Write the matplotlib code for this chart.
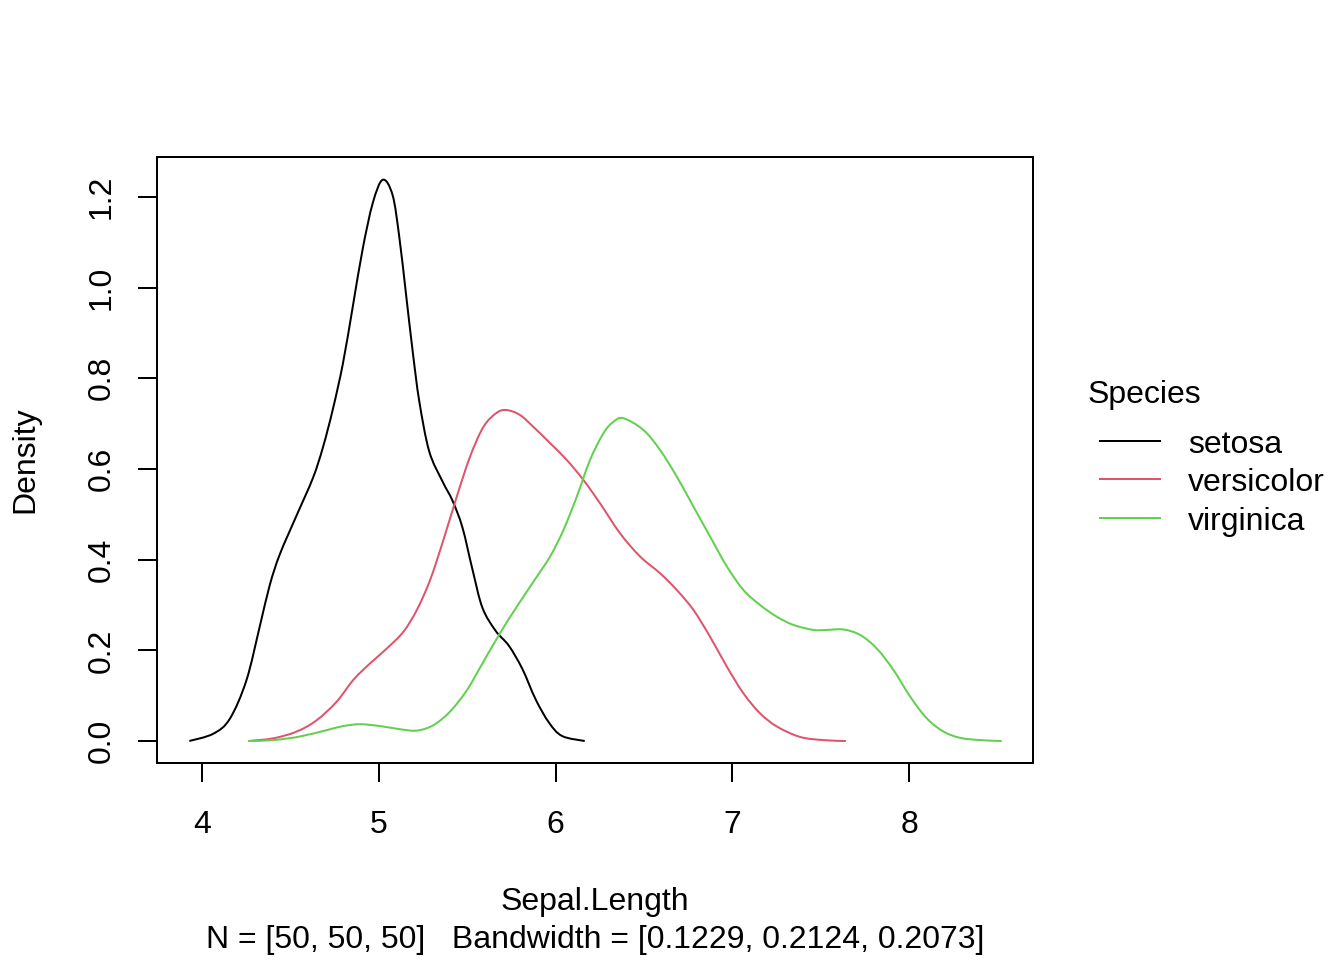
import matplotlib
matplotlib.use("Agg")
import numpy as np
import matplotlib.pyplot as plt
from matplotlib.lines import Line2D
from matplotlib.path import Path
from matplotlib.patches import PathPatch

plt.rcParams['font.family'] = ['Liberation Sans', 'DejaVu Sans']
plt.rcParams['font.size'] = 12

# --- density curves (x = Sepal.Length, y = density) ---
setosa_x = [3.928, 4.063, 4.157, 4.251, 4.326, 4.383, 4.440, 4.533, 4.627, 4.684,
            4.740, 4.797, 4.853, 4.909, 4.966, 5.022, 5.078, 5.116, 5.154, 5.192,
            5.229, 5.285, 5.361, 5.417, 5.473, 5.530, 5.586, 5.661, 5.736, 5.812,
            5.887, 5.962, 6.037, 6.165]
setosa_y = [0.000, 0.016, 0.049, 0.134, 0.252, 0.344, 0.412, 0.496, 0.580, 0.648,
            0.732, 0.833, 0.959, 1.086, 1.187, 1.238, 1.204, 1.111, 0.985, 0.858,
            0.749, 0.639, 0.572, 0.530, 0.471, 0.378, 0.294, 0.243, 0.210, 0.159,
            0.092, 0.041, 0.011, 0.000]

versicolor_x = [4.262, 4.404, 4.536, 4.649, 4.762, 4.856, 4.950, 5.045, 5.139, 5.215,
                5.290, 5.365, 5.441, 5.516, 5.592, 5.667, 5.724, 5.799, 5.874, 5.969,
                6.063, 6.157, 6.252, 6.365, 6.478, 6.591, 6.686, 6.780, 6.874, 6.969,
                7.063, 7.157, 7.252, 7.383, 7.515, 7.642]
versicolor_y = [0.000, 0.006, 0.021, 0.046, 0.087, 0.135, 0.171, 0.204, 0.241, 0.289,
                0.355, 0.443, 0.539, 0.627, 0.693, 0.724, 0.730, 0.719, 0.693, 0.657,
                0.620, 0.576, 0.524, 0.458, 0.407, 0.370, 0.333, 0.289, 0.230, 0.164,
                0.105, 0.061, 0.032, 0.009, 0.002, 0.000]

virginica_x = [4.262, 4.404, 4.554, 4.705, 4.799, 4.894, 5.007, 5.120, 5.215, 5.309,
               5.403, 5.498, 5.592, 5.686, 5.780, 5.874, 5.969, 6.044, 6.120, 6.195,
               6.271, 6.327, 6.384, 6.497, 6.591, 6.686, 6.780, 6.874, 6.969, 7.063,
               7.157, 7.252, 7.346, 7.459, 7.534, 7.628, 7.723, 7.817, 7.911, 8.006,
               8.100, 8.194, 8.289, 8.402, 8.524]
virginica_y = [0.000, 0.002, 0.010, 0.024, 0.033, 0.037, 0.033, 0.026, 0.023, 0.035,
               0.065, 0.112, 0.175, 0.238, 0.296, 0.351, 0.407, 0.465, 0.539, 0.620,
               0.679, 0.704, 0.712, 0.686, 0.642, 0.583, 0.517, 0.451, 0.385, 0.333,
               0.300, 0.274, 0.256, 0.245, 0.245, 0.246, 0.234, 0.204, 0.157, 0.098,
               0.050, 0.021, 0.007, 0.002, 0.000]

species = ['setosa', 'versicolor', 'virginica']
colors = ['#000000', '#DF536B', '#61D04F']
curves = [(setosa_x, setosa_y), (versicolor_x, versicolor_y), (virginica_x, virginica_y)]

x_ticks = [4, 5, 6, 7, 8]
y_ticks = [0.0, 0.2, 0.4, 0.6, 0.8, 1.0, 1.2]

W, H = 1344, 960
fx = lambda px: px / W
fy = lambda py: 1 - py / H


def smooth_path(xs, ys):
    # Catmull-Rom through the read points, drawn as cubic Bezier pieces
    p = np.column_stack([xs, ys])
    n = len(p)
    verts = [p[0]]
    codes = [Path.MOVETO]
    for i in range(n - 1):
        p0, p1, p2, p3 = p[max(i - 1, 0)], p[i], p[i + 1], p[min(i + 2, n - 1)]
        verts += [p1 + (p2 - p0) / 6, p2 - (p3 - p1) / 6, p2]
        codes += [Path.CURVE4] * 3
    return Path(verts, codes)


fig = plt.figure(figsize=(7, 5), dpi=192)
ax = fig.add_axes([fx(157), fy(763), fx(1033) - fx(157), fy(157) - fy(763)])

for (xs, ys), c in zip(curves, colors):
    ax.add_patch(PathPatch(smooth_path(xs, ys), fill=False, edgecolor=c, lw=0.75))

ax.set_xlim(3.745, 8.701)
ax.set_ylim(-0.0485, 1.2882)
ax.set_xticks(x_ticks)
ax.set_xticklabels([str(t) for t in x_ticks])
ax.set_yticks(y_ticks)
ax.set_yticklabels([f'{t:.1f}' for t in y_ticks], rotation=90, va='center')
ax.tick_params(direction='out', length=7.2, width=0.75, labelsize=12)
ax.tick_params(axis='x', pad=10.6)
ax.tick_params(axis='y', pad=8)
for s in ax.spines.values():
    s.set_linewidth(0.75)

# axis titles and the subtitle line under the x label
fig.text(fx(595), fy(910), 'Sepal.Length', ha='center', va='baseline', fontsize=12)
fig.text(fx(595), fy(948), 'N = [50, 50, 50]   Bandwidth = [0.1229, 0.2124, 0.2073]',
         ha='center', va='baseline', fontsize=12)
fig.text(fx(25), fy(460), 'Density', rotation=90, ha='center', va='center', fontsize=12)

# legend drawn by hand, R style
fig.text(fx(1088), fy(403), 'Species', ha='left', va='baseline', fontsize=12)
for i, (name, c) in enumerate(zip(species, colors)):
    yl = 441 + i * 38.4
    fig.add_artist(Line2D([fx(1100), fx(1160)], [fy(yl), fy(yl)],
                          color=c, lw=0.75, transform=fig.transFigure))
    fig.text(fx(1188), fy(yl + 12), name, ha='left', va='baseline', fontsize=12)

fig.savefig('out.png', dpi=192)
